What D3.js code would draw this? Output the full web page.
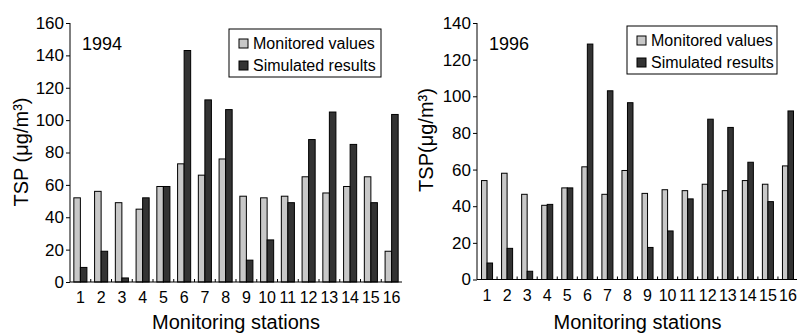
<!DOCTYPE html>
<html>
<head>
    <meta charset="UTF-8">
    <title>TSP</title>
    <script src="https://cdn.jsdelivr.net/npm/d3@7"></script>
    <style>
        body { margin: 0; background: #fff; }
        text { font-family: Arial, "Liberation Sans", sans-serif; fill: #000; }
    </style>
</head>
<body>
<svg id="chart" width="797" height="333"></svg>
<script>
    var stations = ['1','2','3','4','5','6','7','8','9','10','11','12','13','14','15','16'];
    var seriesNames = ['Monitored values', 'Simulated results'];
    var monitored1994 = [52, 56, 49, 45, 59, 73, 66, 76, 53, 52, 53, 65, 55, 59, 65, 19];
    var simulated1994 = [9, 19, 2.5, 52, 59, 143, 112.5, 106.5, 13.5, 26, 49, 88, 105, 85, 49, 103.5];
    var monitored1996 = [54, 58, 46.5, 40.5, 50, 61.5, 46.5, 59.5, 47, 49, 48.5, 52, 48.5, 54, 52, 62];
    var simulated1996 = [9, 17, 4.5, 41, 50, 128.5, 103, 96.5, 17.5, 26.5, 44, 87.5, 83, 64, 42.5, 92];
    var yTicks1994 = [0, 20, 40, 60, 80, 100, 120, 140, 160];
    var yTicks1996 = [0, 20, 40, 60, 80, 100, 120, 140];

    var colors = ['#c8c8c8', '#333333'];
    var svg = d3.select('#chart');

    function drawPanel(opt) {
        var g = svg.append('g');
        var x0 = d3.scaleBand()
                .domain(stations)
                .range([opt.left, opt.right])
                .paddingInner(opt.pad)
                .paddingOuter(opt.pad / 2);
        var x1 = d3.scaleBand()
                .domain([0, 1])
                .range([0, x0.bandwidth()]);
        var y = d3.scaleLinear()
                .domain([0, opt.max])
                .range([opt.bottom, opt.top]);

        var groups = g.selectAll('g.grp')
                .data(stations)
                .enter()
                .append('g')
                .attr('class', 'grp')
                .attr('transform', function (d) { return 'translate(' + x0(d) + ',0)'; });
        groups.selectAll('rect')
                .data(function (d, i) { return [opt.mon[i], opt.sim[i]]; })
                .enter()
                .append('rect')
                .attr('x', function (d, j) { return x1(j); })
                .attr('y', function (d) { return y(d); })
                .attr('width', x1.bandwidth())
                .attr('height', function (d) { return y(0) - y(d); })
                .style('fill', function (d, j) { return colors[j]; })
                .style('stroke', '#000')
                .style('stroke-width', 1);

        // y axis
        var yAxis = g.append('g')
                .attr('transform', 'translate(' + opt.left + ',0)')
                .call(d3.axisLeft(y).tickValues(opt.ticks).tickSize(4).tickPadding(2));
        yAxis.selectAll('text').style('font-size', '17px');
        yAxis.select('.domain').attr('d', 'M0,' + opt.top + 'V' + opt.bottom);

        // x axis: inner ticks at group boundaries
        var step = x0.step();
        var xAxis = g.append('g')
                .attr('transform', 'translate(0,' + opt.bottom + ')');
        xAxis.append('line')
                .attr('x1', opt.left).attr('x2', opt.right)
                .attr('y1', 0).attr('y2', 0)
                .style('stroke', '#000');
        xAxis.selectAll('line.tk')
                .data(stations.slice(1))
                .enter()
                .append('line')
                .attr('class', 'tk')
                .attr('x1', function (d) { return x0(d) - step * opt.pad / 2; })
                .attr('x2', function (d) { return x0(d) - step * opt.pad / 2; })
                .attr('y1', 0).attr('y2', -3)
                .style('stroke', '#000');
        xAxis.selectAll('text')
                .data(stations)
                .enter()
                .append('text')
                .attr('x', function (d) { return x0(d) + x0.bandwidth() / 2; })
                .attr('y', 21)
                .attr('text-anchor', 'middle')
                .style('font-size', '16px')
                .text(function (d) { return d; });

        g.append('text')
                .attr('x', (opt.left + opt.right) / 2)
                .attr('y', 329)
                .attr('text-anchor', 'middle')
                .style('font-size', '20px')
                .text('Monitoring stations');

        g.append('text')
                .attr('transform', 'translate(' + opt.ylabX + ',' + opt.ylabY + ') rotate(-90)')
                .attr('text-anchor', 'middle')
                .style('font-size', '20px')
                .text(opt.ylab);

        g.append('text')
                .attr('x', opt.left + 12)
                .attr('y', opt.top + 27)
                .style('font-size', '18px')
                .text(opt.year);

        // legend
        var lg = g.append('g').attr('transform', 'translate(' + opt.legX + ',' + opt.legY + ')');
        lg.append('rect')
                .attr('width', opt.legW).attr('height', 48)
                .style('fill', '#fff').style('stroke', '#000');
        seriesNames.forEach(function (s, i) {
            lg.append('rect')
                    .attr('x', 10).attr('y', 10 + i * 22)
                    .attr('width', 9).attr('height', 9)
                    .style('fill', colors[i]).style('stroke', '#000');
            lg.append('text')
                    .attr('x', 24).attr('y', 20 + i * 22)
                    .style('font-size', '16px')
                    .text(s);
        });
    }

    drawPanel({left: 70, right: 402, top: 23, bottom: 282, max: 160, pad: 0.37,
        mon: monitored1994, sim: simulated1994, ticks: yTicks1994, year: '1994',
        ylab: 'TSP (\u03bcg/m\u00b3)', ylabX: 28, ylabY: 152,
        legX: 229, legY: 29, legW: 152});
    drawPanel({left: 477, right: 798, top: 23, bottom: 279.5, max: 140, pad: 0.45,
        mon: monitored1996, sim: simulated1996, ticks: yTicks1996, year: '1996',
        ylab: 'TSP(\u03bcg/m\u00b3)', ylabX: 433, ylabY: 140,
        legX: 627, legY: 26, legW: 150});
</script>
</body>
</html>
